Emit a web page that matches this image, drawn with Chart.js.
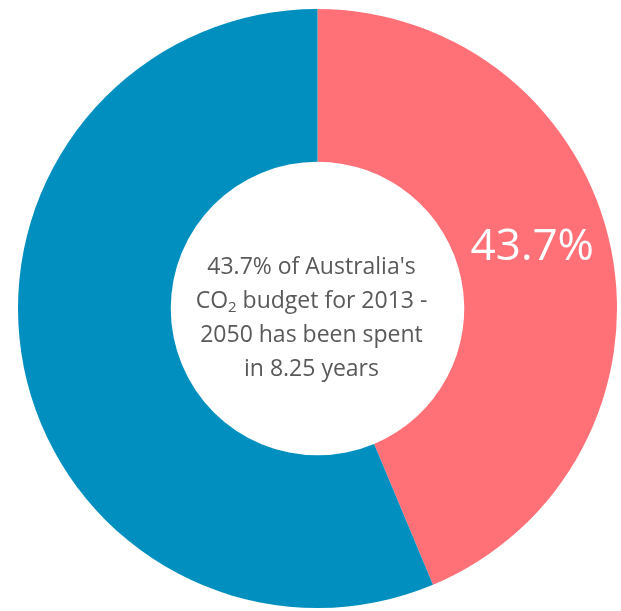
<!DOCTYPE html>
<html>
<head>
<meta charset="utf-8">
<script src="https://cdn.jsdelivr.net/npm/chart.js@4/dist/chart.umd.min.js"></script>
<style>
html,body{margin:0;padding:0;background:#fff;}
#wrap{width:621px;height:611px;}
</style>
</head>
<body>
<div id="wrap"><canvas id="c" width="621" height="611"></canvas></div>
<script>
const categories = ["Spent", "Remaining"];
const values = [43.7, 56.3];
const colors = ["#FF7077", "#008FBE"];
const sliceLabels = ["43.7%", ""];
const centerLines = [
  [{t:"43.7% of Australia's"}],
  [{t:"CO"},{t:"2",sub:true},{t:" budget for 2013 -"}],
  [{t:"2050 has been spent"}],
  [{t:"in 8.25 years"}]
];

const labelPlugin = {
  id: 'labels',
  afterDatasetsDraw(chart) {
    const ctx = chart.ctx;
    const meta = chart.getDatasetMeta(0);
    meta.data.forEach((arc, i) => {
      if (!sliceLabels[i]) return;
      const p = arc.getCenterPoint();
      ctx.save();
      ctx.fillStyle = '#ffffff';
      ctx.font = '44px "Open Sans"';
      ctx.textAlign = 'center';
      ctx.textBaseline = 'middle';
      ctx.fillText(sliceLabels[i], p.x - 4, p.y - 17);
      ctx.restore();
    });
    const cx = meta.data[0].x - 6;
    const cy = meta.data[0].y;
    const lh = 34;
    const mainFont = '23px "Open Sans"';
    const subFont = '15px "Open Sans"';
    ctx.save();
    ctx.fillStyle = '#595959';
    ctx.textBaseline = 'alphabetic';
    ctx.textAlign = 'left';
    const n = centerLines.length;
    centerLines.forEach((line, li) => {
      let w = 0;
      line.forEach(seg => { ctx.font = seg.sub ? subFont : mainFont; w += ctx.measureText(seg.t).width; });
      let x = cx - w / 2;
      const base = cy + (li - (n - 1) / 2) * lh + 16;
      line.forEach(seg => {
        ctx.font = seg.sub ? subFont : mainFont;
        ctx.fillText(seg.t, x, seg.sub ? base + 4 : base);
        x += ctx.measureText(seg.t).width;
      });
    });
    ctx.restore();
  }
};

new Chart(document.getElementById('c'), {
  type: 'doughnut',
  data: {
    labels: categories,
    datasets: [{
      data: values,
      backgroundColor: colors,
      borderWidth: 0,
      hoverOffset: 0
    }]
  },
  options: {
    responsive: false,
    animation: false,
    cutout: '49%',
    layout: { padding: { left: 14, right: 0, top: 9, bottom: 3 } },
    plugins: {
      legend: { display: false },
      tooltip: { enabled: false }
    }
  },
  plugins: [labelPlugin]
});
</script>
</body>
</html>
